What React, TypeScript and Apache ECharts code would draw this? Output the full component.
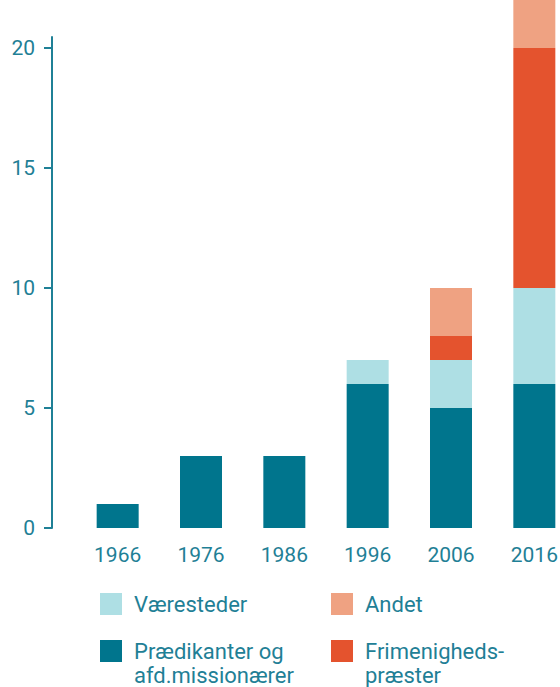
import React, { useEffect, useRef } from "react";
import * as echarts from "echarts";

const years = ["1966", "1976", "1986", "1996", "2006", "2016"];
const praedikanter = [1, 3, 3, 6, 5, 6];
const vaeresteder = [0, 0, 0, 1, 2, 4];
const frimenigheds = [0, 0, 0, 0, 1, 10];
const andet = [0, 0, 0, 0, 2, 2];
const yTicks = [0, 5, 10, 15, 20];

const names = {
  praed: "Prædikanter og afd.missionærer",
  vaer: "Væresteder",
  frim: "Frimenigheds-præster",
  andet: "Andet",
};
const legendLabels: Record<string, string> = {
  [names.praed]: "\nPrædikanter og\nafd.missionærer",
  [names.vaer]: "Væresteder",
  [names.frim]: "\nFrimenigheds-\npræster",
  [names.andet]: "Andet",
};

const C_DARK = "#00758d";
const C_LIGHT = "#aedfe4";
const C_RED = "#e4532e";
const C_SALMON = "#efa282";
const C_TEXT = "#1f8096";
const FONT = "Roboto";

export default function App() {
  const ref = useRef<HTMLDivElement>(null);
  useEffect(() => {
    if (!ref.current) return;
    const chart = echarts.init(ref.current, undefined, { renderer: "svg" });
    const mkLegend = (name: string, left: number, top: number) => ({
      show: true,
      left,
      top,
      padding: 0,
      orient: "horizontal",
      selectedMode: false,
      icon: "rect",
      itemWidth: 22,
      itemHeight: 22,
      data: [name],
      formatter: (n: string) => legendLabels[n] || n,
      textStyle: {
        color: C_TEXT,
        fontFamily: FONT,
        fontSize: 22,
        lineHeight: 24,
        padding: [0, 0, 0, 7],
      },
    });
    const barBase = {
      type: "bar",
      stack: "total",
      barWidth: 42,
      clip: false,
    };
    chart.setOption({
      animation: false,
      grid: { left: 76, width: 500, top: 37, bottom: 159, outerBoundsMode: "none" },
      legend: [
        mkLegend(names.vaer, 100, 592),
        mkLegend(names.andet, 331, 592),
        mkLegend(names.praed, 100, 615),
        mkLegend(names.frim, 331, 615),
      ],
      xAxis: {
        type: "category",
        data: years,
        axisLine: { show: false },
        axisTick: { show: false },
        axisLabel: {
          color: C_TEXT,
          fontFamily: FONT,
          fontSize: 21,
          margin: 16,
        },
      },
      yAxis: {
        type: "value",
        min: 0,
        max: 20.46,
        offset: 24,
        splitLine: { show: false },
        axisLine: { show: true, lineStyle: { color: C_TEXT, width: 2 } },
        axisTick: {
          show: true,
          length: 8,
          lineStyle: { color: C_TEXT, width: 2 },
          customValues: yTicks,
        },
        axisLabel: {
          color: C_TEXT,
          fontFamily: FONT,
          fontSize: 21,
          margin: 17,
          customValues: yTicks,
        },
      },
      series: [
        { ...barBase, name: names.praed, data: praedikanter, itemStyle: { color: C_DARK } },
        { ...barBase, name: names.vaer, data: vaeresteder, itemStyle: { color: C_LIGHT } },
        { ...barBase, name: names.frim, data: frimenigheds, itemStyle: { color: C_RED } },
        { ...barBase, name: names.andet, data: andet, itemStyle: { color: C_SALMON } },
      ],
    });
    return () => chart.dispose();
  }, []);
  return (
    <div
      ref={ref}
      style={{ position: "absolute", left: 0, top: 0, width: 560, height: 687 }}
    />
  );
}
